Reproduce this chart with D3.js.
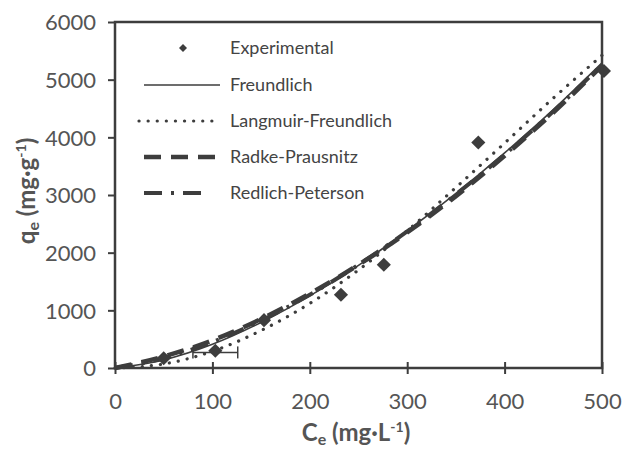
<!DOCTYPE html>
<html>
<head>
<meta charset="utf-8">
<script src="https://cdn.jsdelivr.net/npm/d3@7"></script>
<style>
  body { margin: 0; background: #fff; }
  text { font-family: Lato, "Open Sans", sans-serif; }
</style>
</head>
<body>
<div id="container"></div>
<script>
// experimental points
const expC = [50, 103, 153, 232, 276, 373, 502];
const expQ = [170, 300, 830, 1270, 1790, 3910, 5150];
// horizontal error bar on the second point
const errC = [80, 126];
const errQ = 270;

// model curves
const ceGrid = [0, 50, 100, 150, 200, 250, 300, 350, 400, 450, 500];
const freundlich = [0, 140, 410, 790, 1250, 1780, 2380, 3030, 3730, 4480, 5290];
const langmuirFreundlich = [0, 70, 290, 650, 1120, 1700, 2380, 3130, 3900, 4680, 5420];
const radkePrausnitz = [0, 200, 480, 850, 1290, 1790, 2350, 2980, 3680, 4430, 5240];
const redlichPeterson = [0, 170, 450, 820, 1270, 1790, 2370, 3010, 3700, 4450, 5260];

const xTicks = [0, 100, 200, 300, 400, 500];
const yTicks = [0, 1000, 2000, 3000, 4000, 5000, 6000];

const legendNames = ['Experimental', 'Freundlich', 'Langmuir-Freundlich', 'Radke-Prausnitz', 'Redlich-Peterson'];

const width = 625, height = 450;
const ink = '#3d3d3d';

const x = d3.scaleLinear().domain([0, 500]).range([115, 602]);
const y = d3.scaleLinear().domain([0, 6000]).range([368, 22]);

const svg = d3.create('svg').attr('width', width).attr('height', height);

// styles for each fitted model
const styles = {
  'Freundlich':          { width: 1.6, dash: null, cap: 'butt' },
  'Langmuir-Freundlich': { width: 3.2, dash: '0.1,9', cap: 'round' },
  'Radke-Prausnitz':     { width: 4.5, dash: '17,10', cap: 'butt' },
  'Redlich-Peterson':    { width: 4, dash: '18,9,3,9', cap: 'butt' }
};

const series = [
  { name: 'Freundlich', q: freundlich },
  { name: 'Langmuir-Freundlich', q: langmuirFreundlich },
  { name: 'Radke-Prausnitz', q: radkePrausnitz },
  { name: 'Redlich-Peterson', q: redlichPeterson }
];

const line = d3.line().x(d => x(d[0])).y(d => y(d[1])).curve(d3.curveMonotoneX);

svg.append('g').selectAll('path').data(series).enter().append('path')
  .attr('d', s => line(ceGrid.map((c, i) => [c, s.q[i]])))
  .attr('fill', 'none')
  .attr('stroke', ink)
  .attr('stroke-width', s => styles[s.name].width)
  .attr('stroke-dasharray', s => styles[s.name].dash)
  .attr('stroke-linecap', s => styles[s.name].cap);

// error bar
const eb = svg.append('g').attr('stroke', ink).attr('stroke-width', 1.5);
eb.append('line').attr('x1', x(errC[0])).attr('x2', x(errC[1])).attr('y1', y(errQ)).attr('y2', y(errQ));
errC.forEach(c => eb.append('line').attr('x1', x(c)).attr('x2', x(c)).attr('y1', y(errQ) - 6).attr('y2', y(errQ) + 6));

// diamonds
const diamond = d3.symbol().type(d3.symbolSquare);
svg.append('g').selectAll('path').data(expC).enter().append('path')
  .attr('d', diamond.size(100))
  .attr('transform', (d, i) => `translate(${x(d)},${y(expQ[i])}) rotate(45)`)
  .attr('fill', ink);

// frame and axes
svg.append('rect')
  .attr('x', x(0)).attr('y', y(6000))
  .attr('width', x(500) - x(0)).attr('height', y(0) - y(6000))
  .attr('fill', 'none').attr('stroke', ink).attr('stroke-width', 2.5);

const xAxis = svg.append('g').attr('transform', `translate(0,${y(0)})`)
  .call(d3.axisBottom(x).tickValues(xTicks).tickSize(6).tickFormat(d3.format('d')));
xAxis.selectAll('.tick line').attr('y1', -6);
const yAxis = svg.append('g').attr('transform', `translate(${x(0)},0)`)
  .call(d3.axisLeft(y).tickValues(yTicks).tickSize(7).tickFormat(d3.format('d')));

[xAxis, yAxis].forEach(a => {
  a.select('.domain').remove();
  a.selectAll('.tick line').attr('stroke', ink).attr('stroke-width', 2);
  a.selectAll('.tick text').attr('fill', '#555').style('font-size', '22px');
});
xAxis.selectAll('.tick text').attr('dy', null).attr('y', 41);
yAxis.selectAll('.tick text').attr('x', -19).attr('dy', '0.35em');

// axis titles
const xt = svg.append('text').attr('x', 356).attr('y', 441).attr('text-anchor', 'middle')
  .attr('fill', '#555').style('font-size', '24px').style('font-weight', 'bold');
xt.append('tspan').text('C');
xt.append('tspan').text('e').style('font-size', '16px').attr('dy', 4);
xt.append('tspan').text(' (mg·L').attr('dy', -4);
xt.append('tspan').text('-1').style('font-size', '14px').attr('dy', -9);
xt.append('tspan').text(')').attr('dy', 9);

const yt = svg.append('text').attr('transform', 'translate(35,191) rotate(-90)').attr('text-anchor', 'middle')
  .attr('fill', '#555').style('font-size', '24px').style('font-weight', 'bold');
yt.append('tspan').text('q');
yt.append('tspan').text('e').style('font-size', '16px').attr('dy', 4);
yt.append('tspan').text(' (mg·g').attr('dy', -4);
yt.append('tspan').text('-1').style('font-size', '14px').attr('dy', -9);
yt.append('tspan').text(')').attr('dy', 9);

// legend
const legRows = [48, 85, 121, 157, 193];
const leg = svg.append('g');
legendNames.forEach((name, i) => {
  const ly = legRows[i];
  if (name === 'Experimental') {
    leg.append('path').attr('d', d3.symbol().type(d3.symbolSquare).size(32))
      .attr('transform', `translate(183,${ly}) rotate(45)`).attr('fill', ink);
  } else {
    const st = styles[name];
    const x1 = name === 'Langmuir-Freundlich' ? 139 : 144;
    const x2 = name === 'Redlich-Peterson' ? 210 : 220;
    leg.append('line').attr('x1', x1).attr('x2', x2).attr('y1', ly).attr('y2', ly)
      .attr('stroke', ink).attr('stroke-width', st.width)
      .attr('stroke-dasharray', st.dash).attr('stroke-linecap', st.cap);
  }
  leg.append('text').attr('x', 230).attr('y', ly).attr('dy', '0.35em')
    .attr('fill', '#444').style('font-size', '18px').text(name);
});

document.getElementById('container').append(svg.node());
</script>
</body>
</html>
